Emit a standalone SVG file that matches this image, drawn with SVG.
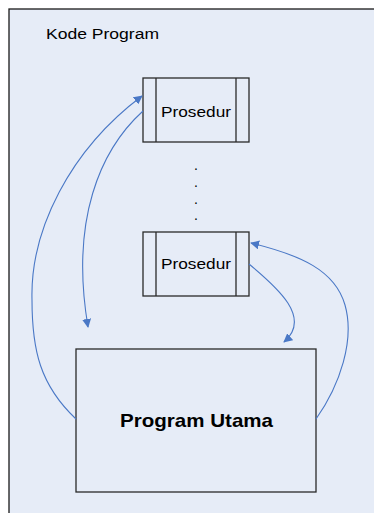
<svg xmlns="http://www.w3.org/2000/svg" width="374" height="513" viewBox="0 0 374 513">
<style>
.frame{fill:#E6ECF7;stroke:#1a1a1a;stroke-width:1.3}
.box{fill:#E6ECF7;stroke:#2a2a2a;stroke-width:1.3}
.div{stroke:#2a2a2a;stroke-width:1.3;fill:none}
.t{font-family:"Liberation Sans",Arial,sans-serif;fill:#000}
.conn path{fill:none;stroke:#4A78C6;stroke-width:1.1}
</style>
<defs>
<marker id="ah" viewBox="0 0 10 10" refX="9" refY="5" markerWidth="9" markerHeight="9" markerUnits="userSpaceOnUse" orient="auto">
<path d="M0,0 L10,5 L0,10 z" fill="#4A78C6"/>
</marker>
</defs>
<rect x="0" y="0" width="374" height="513" fill="#ffffff"/>
<g id="kode-program">
<rect class="frame" x="9" y="9" width="420" height="560"/>
<text class="t" x="46" y="39" font-size="14" textLength="113" lengthAdjust="spacingAndGlyphs">Kode Program</text>
</g>
<g id="prosedur1">
<rect class="box" x="143" y="78" width="106" height="64"/>
<line class="div" x1="156" y1="78" x2="156" y2="142"/>
<line class="div" x1="236" y1="78" x2="236" y2="142"/>
<text class="t" x="161" y="117" font-size="15.5" textLength="70" lengthAdjust="spacingAndGlyphs">Prosedur</text>
</g>
<g id="dots">
<text class="t" x="196" y="170" font-size="14" text-anchor="middle">.</text>
<text class="t" x="196" y="187" font-size="14" text-anchor="middle">.</text>
<text class="t" x="196" y="204" font-size="14" text-anchor="middle">.</text>
<text class="t" x="196" y="220" font-size="14" text-anchor="middle">.</text>
</g>
<g id="prosedur2">
<rect class="box" x="143" y="232" width="106" height="64"/>
<line class="div" x1="156" y1="232" x2="156" y2="296"/>
<line class="div" x1="236" y1="232" x2="236" y2="296"/>
<text class="t" x="161" y="268.5" font-size="15.5" textLength="70" lengthAdjust="spacingAndGlyphs">Prosedur</text>
</g>
<g id="program-utama">
<rect class="box" x="76" y="349" width="240" height="143"/>
<text class="t" x="120" y="427" font-size="18.5" font-weight="bold" textLength="153" lengthAdjust="spacingAndGlyphs">Program Utama</text>
</g>
<g class="conn" id="connectors">
<path d="M76,419 C40,385 32,350 32,300 C30,230 70,150 142,96" marker-end="url(#ah)"/>
<path d="M143,111 C100,150 70,220 88,327" marker-end="url(#ah)"/>
<path d="M249,264 C278,288 312,318 284,342" marker-end="url(#ah)"/>
<path d="M316,419 C340,385 355,340 345,305 C335,270 300,255 251,243" marker-end="url(#ah)"/>
</g>
</svg>
